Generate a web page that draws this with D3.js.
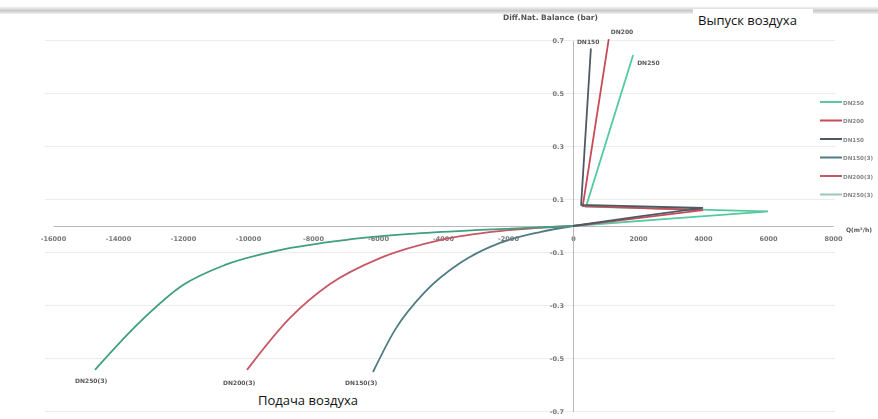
<!doctype html>
<html lang="en">
<head>
  <meta charset="utf-8">
  <title>Air valve chart</title>
  <style>
    body { margin: 0; background: #fff; }
    svg { display: block; }
  </style>
</head>
<body>
<script src="https://d3js.org/d3.v7.min.js"></script>
<svg width="878" height="419" id="chart"></svg>
<script>
    var svg = d3.select("#chart");

    var width = 878;
    var height = 419;

    // tick values
    var xTicks = [-16000, -14000, -12000, -10000, -8000, -6000, -4000, -2000, 0, 2000, 4000, 6000, 8000];
    var yTicks = [0.7, 0.5, 0.3, 0.1, -0.1, -0.3, -0.5, -0.7];

    // series names (legend order)
    var names = ["DN250", "DN200", "DN150", "DN150(З)", "DN200(З)", "DN250(З)"];
    var colors = ["#55c9a0", "#c94b58", "#4d5a66", "#4f7c84", "#c65866", "#9cc9b4"];

    // exhaust (Выпуск) series, [Q, bar]
    var dn250 = [[0, 0], [3000, 0.028], [6000, 0.055], [400, 0.073], [1850, 0.645]];
    var dn200 = [[0, 0], [2000, 0.03], [4000, 0.06], [300, 0.075], [1100, 0.705]];
    var dn150 = [[0, 0], [2000, 0.035], [4000, 0.068], [250, 0.08], [550, 0.67]];

    // supply (Подача) series
    var dn150s = [[-6154, -0.551], [-5477, -0.392], [-4554, -0.249], [-3477, -0.14], [-2246, -0.064], [-1015, -0.023], [0, 0]];
    var dn200s = [[-10031, -0.543], [-8708, -0.347], [-7477, -0.219], [-5938, -0.121], [-4092, -0.053], [-2246, -0.019], [0, 0]];
    var dn250s = [[-14708, -0.543], [-13323, -0.362], [-12000, -0.223], [-10708, -0.147], [-9015, -0.091], [-7015, -0.053], [-5015, -0.03], [-2862, -0.015], [0, 0]];

    var x = d3.scaleLinear().domain([-16000, 8000]).range([53, 833]);
    var y = d3.scaleLinear().domain([-0.7, 0.7]).range([411.5, 40.5]);

    var defs = svg.append("defs");
    defs.append("filter").attr("id", "soft")
      .append("feGaussianBlur").attr("stdDeviation", 0.55);
    var grad = defs.append("linearGradient").attr("id", "topbar")
      .attr("x1", 0).attr("x2", 0).attr("y1", 0).attr("y2", 1);
    grad.append("stop").attr("offset", "0%").attr("stop-color", "#fff");
    grad.append("stop").attr("offset", "60%").attr("stop-color", "#c8c8c8");
    grad.append("stop").attr("offset", "100%").attr("stop-color", "#f4f4f4");

    svg.append("rect").attr("x", 0).attr("y", 6).attr("width", width).attr("height", 8)
      .attr("fill", "url(#topbar)");

    var g = svg.append("g").attr("filter", "url(#soft)");

    // horizontal grid
    g.selectAll(".grid").data(yTicks).enter().append("line")
      .attr("x1", 45).attr("x2", 835)
      .attr("y1", function(d) { return y(d); }).attr("y2", function(d) { return y(d); })
      .attr("stroke", "#ececec").attr("stroke-width", 1);

    // axes
    var xAxis = g.append("g").attr("transform", "translate(0," + y(0) + ")")
      .call(d3.axisBottom(x).tickValues(xTicks).tickSize(0).tickPadding(10)
        .tickFormat(function(d) { return String(d); }));
    xAxis.select(".domain").attr("stroke", "#b8b8b8");
    xAxis.selectAll("text").attr("font-family", "DejaVu Sans").attr("font-size", 6.5)
      .attr("font-weight", "bold").attr("fill", "#777");

    var yAxis = g.append("g").attr("transform", "translate(" + x(0) + ",0)")
      .call(d3.axisLeft(y).tickValues(yTicks).tickSize(0).tickPadding(9)
        .tickFormat(function(d) { return d.toFixed(1); }));
    yAxis.select(".domain").attr("stroke", "#b8b8b8");
    yAxis.selectAll("text").attr("font-family", "DejaVu Sans").attr("font-size", 6.5)
      .attr("font-weight", "bold").attr("fill", "#777");

    var line = d3.line().x(function(d) { return x(d[0]); }).y(function(d) { return y(d[1]); });
    var smooth = d3.line().curve(d3.curveMonotoneX)
      .x(function(d) { return x(d[0]); }).y(function(d) { return y(d[1]); });

    var series = [
      { data: dn250, c: colors[0], f: line },
      { data: dn200, c: colors[1], f: line },
      { data: dn150, c: colors[2], f: line },
      { data: dn150s, c: colors[3], f: smooth },
      { data: dn200s, c: colors[4], f: smooth },
      { data: dn250s, c: "#3f9f7f", f: smooth }
    ];
    series.forEach(function(s) {
      g.append("path").attr("d", s.f(s.data)).attr("fill", "none")
        .attr("stroke", s.c).attr("stroke-width", 1.8);
    });

    // series labels at line ends
    var endLabels = [
      { t: "DN150", p: dn150[4], dx: -14, dy: -4 },
      { t: "DN200", p: dn200[4], dx: 2, dy: -5 },
      { t: "DN250", p: dn250[4], dx: 4, dy: 10 },
      { t: "DN250(З)", p: dn250s[0], dx: -20, dy: 13 },
      { t: "DN200(З)", p: dn200s[0], dx: -24, dy: 15 },
      { t: "DN150(З)", p: dn150s[0], dx: -28, dy: 13 }
    ];
    g.selectAll(".lbl").data(endLabels).enter().append("text")
      .attr("x", function(d) { return x(d.p[0]) + d.dx; })
      .attr("y", function(d) { return y(d.p[1]) + d.dy; })
      .attr("font-family", "DejaVu Sans").attr("font-size", 6)
      .attr("font-weight", "bold").attr("fill", "#555")
      .text(function(d) { return d.t; });

    // legend
    var leg = g.selectAll(".leg").data(names).enter().append("g")
      .attr("transform", function(d, i) { return "translate(820," + (102 + i * 18.5) + ")"; });
    leg.append("line").attr("x1", 0).attr("x2", 22).attr("stroke", function(d, i) { return colors[i]; })
      .attr("stroke-width", 2);
    leg.append("text").attr("x", 23).attr("y", 2.5)
      .attr("font-family", "DejaVu Sans").attr("font-size", 5.6).attr("font-weight", "bold")
      .attr("fill", "#888").text(function(d) { return d; });

    // axis titles
    g.append("text").attr("x", 503).attr("y", 20)
      .attr("font-family", "DejaVu Sans").attr("font-size", 7.5).attr("font-weight", "bold")
      .attr("fill", "#555").text("Diff.Nat. Balance (bar)");
    g.append("text").attr("x", 846).attr("y", 232)
      .attr("font-family", "DejaVu Sans").attr("font-size", 6).attr("font-weight", "bold")
      .attr("fill", "#555").text("Q(m³/h)");

    // overlay captions
    svg.append("rect").attr("x", 693).attr("y", 9).attr("width", 120).attr("height", 22).attr("fill", "#fff");
    svg.append("text").attr("x", 698).attr("y", 25)
      .attr("font-family", "Open Sans").attr("font-size", 13).attr("fill", "#111")
      .text("Выпуск воздуха");
    svg.append("rect").attr("x", 254).attr("y", 389).attr("width", 116).attr("height", 20).attr("fill", "#fff");
    svg.append("text").attr("x", 258).attr("y", 405)
      .attr("font-family", "Open Sans").attr("font-size", 13).attr("fill", "#111")
      .text("Подача воздуха");
</script>
</body>
</html>
